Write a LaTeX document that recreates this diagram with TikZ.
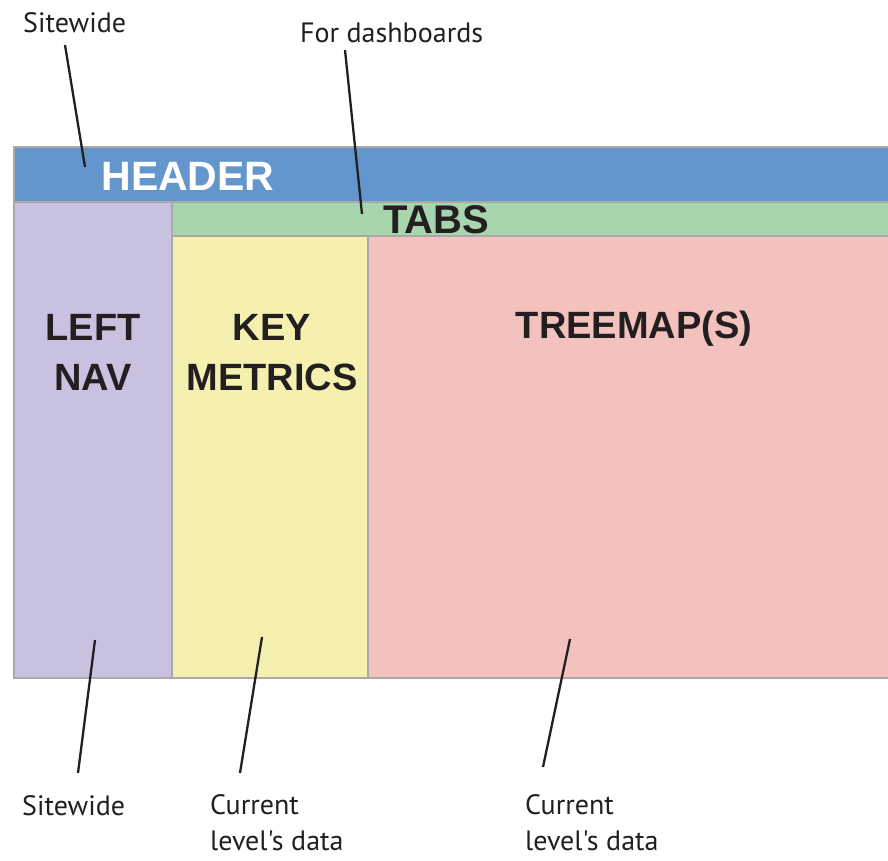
\documentclass[tikz,border=0pt]{standalone}
\usepackage{fontspec}
\setmainfont{Liberation Sans}
\newfontfamily\labfont{PT Sans}
\definecolor{hdrblue}{HTML}{6396CC}
\definecolor{tabgreen}{HTML}{A6D5AE}
\definecolor{navpurple}{HTML}{C8C1E0}
\definecolor{keyyellow}{HTML}{F5F0B0}
\definecolor{treepink}{HTML}{F3C1BE}
\definecolor{edgegray}{HTML}{A9A9A9}
\definecolor{ink}{HTML}{231F20}
\tikzset{
  panel/.style={draw=edgegray, line width=2pt},
  bigtxt/.style={font=\bfseries\fontsize{38}{50}\selectfont, text=ink, align=center, inner sep=0pt},
  lab/.style={font=\labfont\fontsize{28}{36}\selectfont, text=ink, align=left, inner sep=0pt},
  leader/.style={draw=ink, line width=2.3pt}
}
\begin{document}
\begin{tikzpicture}[x=1pt,y=-1pt]
\clip (0,0) rectangle (888,860);
\fill[white] (0,0) rectangle (888,860);
% panels
\path[panel, fill=hdrblue] (14,147) rectangle (900,202);
\path[panel, fill=navpurple] (14,202) rectangle (172,678);
\path[panel, fill=tabgreen] (172,202) rectangle (900,236);
\path[panel, fill=keyyellow] (172,236) rectangle (368,678);
\path[panel, fill=treepink] (368,236) rectangle (900,678);
% titles
\node[bigtxt, text=white, font=\bfseries\fontsize{41}{50}\selectfont] (header) at (188,176) {HEADER};
\node[bigtxt, font=\bfseries\fontsize{40}{50}\selectfont] (tabs) at (436,220) {TABS};
\node[bigtxt] (leftnav) at (93,352) {LEFT\\NAV};
\node[bigtxt] (keymetrics) at (272,353) {KEY\\METRICS};
\node[bigtxt] (treemap) at (634,329) {TREEMAP(S)};
% labels
\node[lab, anchor=west] (topsite) at (23,23) {Sitewide};
\node[lab, anchor=west] (dash) at (300,33) {For dashboards};
\node[lab, anchor=west] (botsite) at (22,806) {Sitewide};
\node[lab, anchor=north west] (cur1) at (210,794) {Current\\level's data};
\node[lab, anchor=north west] (cur2) at (525,794) {Current\\level's data};
% leader ends
\coordinate (a1) at (65,45);  \coordinate (a2) at (85,167);
\coordinate (b1) at (345,50); \coordinate (b2) at (362,214);
\coordinate (c1) at (78,773); \coordinate (c2) at (95,640);
\coordinate (d1) at (240,773); \coordinate (d2) at (262,637);
\coordinate (e1) at (543,767); \coordinate (e2) at (570,639);
\draw[leader] (a1) -- (a2);
\draw[leader] (b1) -- (b2);
\draw[leader] (c1) -- (c2);
\draw[leader] (d1) -- (d2);
\draw[leader] (e1) -- (e2);
\end{tikzpicture}
\end{document}
